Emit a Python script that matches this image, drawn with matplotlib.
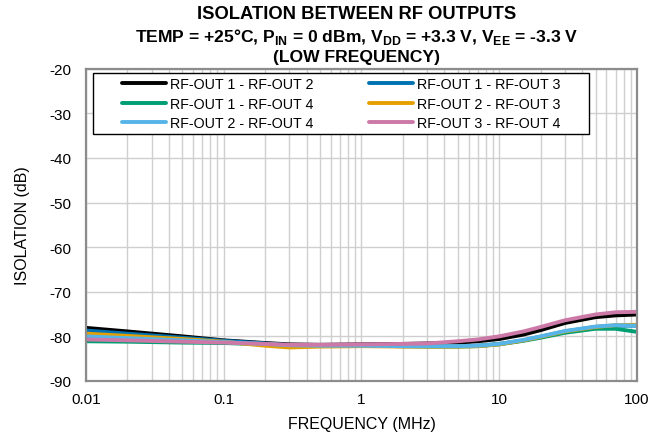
import numpy as np
import matplotlib
matplotlib.use("Agg")
import matplotlib.pyplot as plt
from matplotlib.patches import Rectangle
from matplotlib.ticker import FixedLocator, NullFormatter

plt.rcParams['font.family'] = ['Liberation Sans', 'DejaVu Sans']
plt.rcParams['mathtext.fontset'] = 'custom'
plt.rcParams['mathtext.bf'] = 'Liberation Sans:bold'
plt.rcParams['mathtext.rm'] = 'Liberation Sans'
plt.rcParams['axes.unicode_minus'] = False

# frequency points (MHz)
freq = [0.01, 0.02, 0.05, 0.1, 0.2, 0.3, 0.5, 1, 2, 3, 5, 7, 10, 15, 20, 30, 50, 70, 100]

# isolation (dB) for each output pair
iso_1_2 = [-78.1, -78.9, -80.0, -80.9, -81.5, -81.8, -81.9, -81.8, -81.7, -81.6, -81.4, -81.1, -80.6, -79.6, -78.6, -77.0, -75.7, -75.3, -75.1]
iso_1_3 = [-78.7, -79.4, -80.3, -81.0, -81.6, -82.0, -82.1, -82.1, -82.2, -82.2, -82.2, -82.1, -81.7, -80.9, -80.1, -78.9, -77.9, -77.6, -77.6]
iso_1_4 = [-81.1, -81.2, -81.4, -81.5, -81.8, -82.0, -82.1, -82.1, -82.2, -82.3, -82.3, -82.2, -81.8, -81.0, -80.3, -79.2, -78.3, -78.3, -79.0]
iso_2_3 = [-79.4, -79.9, -80.6, -81.2, -82.1, -82.5, -82.3, -82.2, -82.3, -82.3, -82.3, -82.2, -81.8, -80.9, -80.1, -78.9, -77.9, -77.5, -77.4]
iso_2_4 = [-80.0, -80.4, -80.9, -81.3, -81.7, -82.0, -82.1, -82.1, -82.2, -82.2, -82.2, -82.1, -81.7, -80.8, -80.0, -78.8, -77.8, -77.5, -77.6]
iso_3_4 = [-80.7, -80.9, -81.2, -81.4, -81.7, -81.9, -81.9, -81.8, -81.7, -81.6, -81.1, -80.7, -80.0, -78.9, -77.9, -76.4, -75.1, -74.6, -74.5]

labels = ["RF-OUT 1 - RF-OUT 2", "RF-OUT 1 - RF-OUT 3", "RF-OUT 1 - RF-OUT 4",
          "RF-OUT 2 - RF-OUT 3", "RF-OUT 2 - RF-OUT 4", "RF-OUT 3 - RF-OUT 4"]
colors = ["#000000", "#0072B2", "#009E73", "#E69F00", "#56B4E9", "#CC79A7"]
series = [iso_1_2, iso_1_3, iso_1_4, iso_2_3, iso_2_4, iso_3_4]

fig = plt.figure(figsize=(6.49, 4.39), dpi=100)
ax = fig.add_axes([0.1325, 0.130, 0.849, 0.711])

lines = []
for y, c, lab in zip(series, colors, labels):
    ln, = ax.plot(freq, y, color=c, linewidth=2.8, label=lab, solid_capstyle='round')
    lines.append(ln)

ax.set_xscale('log')
ax.set_xlim(0.01, 100)
ax.set_ylim(-90, -20)
ax.set_yticks(np.arange(-90, -19, 10))
ax.xaxis.set_major_locator(FixedLocator([0.01, 0.1, 1, 10, 100]))
ax.set_xticklabels(["0.01", "0.1", "1", "10", "100"])
minors = [m * d for d in [0.01, 0.1, 1, 10] for m in range(2, 10)]
ax.xaxis.set_minor_locator(FixedLocator(minors))
ax.xaxis.set_minor_formatter(NullFormatter())

ax.grid(True, which='major', color='#cfcfcf', linewidth=1.0)
ax.grid(True, which='minor', axis='x', color='#cfcfcf', linewidth=1.0)
ax.set_axisbelow(True)
for s in ax.spines.values():
    s.set_color('#8c8c8c')
    s.set_linewidth(1.6)
ax.tick_params(which='both', length=0, labelsize=11)
ax.tick_params(axis='y', pad=10.5)
ax.tick_params(axis='x', pad=8)

ax.set_xlabel("FREQUENCY (MHz)", fontsize=11.5, labelpad=7)
ax.set_ylabel("ISOLATION (dB)", fontsize=11.5, labelpad=14)

# legend filled row by row: two entries per row
order = [0, 2, 4, 1, 3, 5]
leg = ax.legend([lines[i] for i in order], [labels[i] for i in order],
                ncol=2, loc='upper left', bbox_to_anchor=(0.0653, 0.974),
                fontsize=10.25, handlelength=3.1, handletextpad=0.28,
                columnspacing=3.9, labelspacing=0.4, frameon=False,
                borderpad=0, borderaxespad=0)

# white box with a thin black border around the legend, wider than tall padding
fig.canvas.draw()
bb = leg.get_window_extent().transformed(ax.transAxes.inverted())
px = 1.0 / (ax.get_window_extent().width)
py = 1.0 / (ax.get_window_extent().height)
box = Rectangle((bb.x0 - 29 * px, bb.y0 - 4 * py), bb.width + 57 * px, bb.height + 8 * py,
                transform=ax.transAxes, facecolor='white', edgecolor='black',
                linewidth=1.0, zorder=4)
ax.add_patch(box)
leg.set_zorder(5)

fig.text(0.55, 0.966, "ISOLATION BETWEEN RF OUTPUTS", ha='center', va='center',
         fontsize=13.2, fontweight='bold')
fig.text(0.55, 0.916,
         r"TEMP = +25°C, P$_{\mathbf{IN}}$ = 0 dBm, V$_{\mathbf{DD}}$ = +3.3 V, V$_{\mathbf{EE}}$ = -3.3 V",
         ha='center', va='center', fontsize=12.6, fontweight='bold')
fig.text(0.55, 0.870, "(LOW FREQUENCY)", ha='center', va='center',
         fontsize=12.6, fontweight='bold')

fig.savefig("out.png", dpi=100)
